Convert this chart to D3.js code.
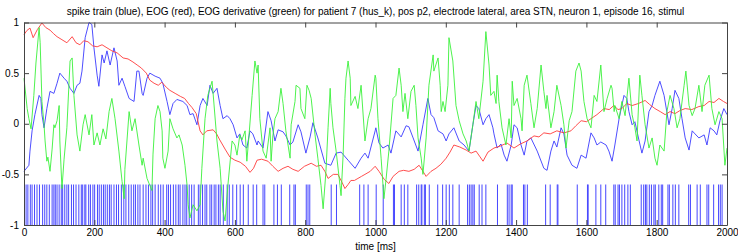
<!DOCTYPE html>
<html>
<head>
<meta charset="utf-8">
<script src="https://cdn.jsdelivr.net/npm/d3@7"></script>
<style>
	body { margin:0; background:#fff; }
	svg text { font-family:"Liberation Sans", Arial, sans-serif; fill:#000; }
	.axis path, .axis line { stroke:#444; }
	.axis text { font-size:10px; }
</style>
</head>
<body>
<svg id="chart"></svg>
<script>
// spike times [ms]
var spikeTimes = [6,11,18,23,30,37,44,53,59,65,72,80,85,89,94,100,106,110,116,122,127,135,141,148,156,163,167,173,176,184,189,196,201,209,214,220,226,231,237,243,248,256,263,269,277,284,290,298,305,312,317,324,
	330,339,347,354,361,366,373,382,389,396,406,411,417,425,432,439,444,452,458,463,470,477,484,496,501,508,515,520,529,534,541,546,553,558,567,578,584,594,605,615,624,638,652,662,
	680,685,711,721,732,756,768,772,803,808,813,874,889,955,967,979,1002,
	1022,1051,1054,1073,1082,1092,1117,1123,1130,1132,1139,1142,1153,1177,1191,1201,1210,1220,1238,1262,1267,1272,1277,1281,1295,1303,1314,
	1347,1375,1380,1386,1389,1421,1425,1432,1484,1497,1517,1519,1574,1603,1605,1627,1641,1655,
	1678,1682,1690,1694,1701,1709,1718,1725,1756,1763,1768,1772,1779,1785,1792,1796,1806,1813,1817,1832,1836,1846,1853,1863,1891,1896,1915,1924,1943,1948,1962,1976,1981,1986];

// smoothed spike train (blue) [ms, value]
var spikeRate = [[0,-0.47],[14,-0.41],[17,-0.27],[23,-0.07],[31,0.09],[43,0.28],[48,0.25],[51,0.09],[57,-0.04],[65,0.15],[74,0.32],[85,0.30],[94,0.40],[102,0.50],[114,0.45],[122,0.42],[131,0.35],[142,0.30],[151,0.38],[159,0.40],[165,0.52],[174,0.85],[185,1.0],[193,0.98],[199,0.75],[208,0.48],[213,0.37],[222,0.68],[228,0.60],[236,0.72],[245,0.58],[256,0.75],[265,0.62],[270,0.38],[279,0.45],[287,0.37],[299,0.25],[313,0.22],[321,0.52],[327,0.52],[336,0.30],
	[339,0.28],[350,0.45],[358,0.50],[373,0.47],[387,0.45],[395,0.40],[407,0.22],[415,0.09],[424,0.20],[435,0.24],[452,0.22],[464,0.18],[472,0.09],[481,0.10],[492,-0.01],[501,0.18],[509,0.25],[521,0.18],[529,0.38],[538,0.30],[549,0.35],[558,0.18],[566,0.05],[578,0.08],[586,0.05],[595,-0.01],[606,-0.14],[614,-0.10],[623,-0.21],[634,-0.24],[643,-0.07],[651,-0.10],[663,-0.21],
	[666,-0.17],[680,-0.24],[694,0.12],[703,0.03],[714,-0.17],[723,-0.06],[737,-0.08],[745,-0.12],[757,-0.21],[765,-0.18],[780,-0.01],[788,-0.08],[802,-0.29],[814,-0.13],[822,0.01],[836,-0.14],[856,-0.39],[873,-0.41],[888,-0.29],[902,-0.28],[922,-0.36],[942,-0.44],[959,-0.34],[970,-0.29],[979,-0.34],[999,-0.07],
	[1001,-0.04],[1010,-0.19],[1021,-0.24],[1036,-0.21],[1044,-0.29],[1058,-0.07],[1073,-0.13],[1087,-0.02],[1095,-0.03],[1107,-0.14],[1121,-0.27],[1135,-0.01],[1149,0.25],[1158,0.09],[1166,0.06],[1178,-0.07],[1192,-0.10],[1201,-0.17],[1209,-0.10],[1223,-0.04],[1238,-0.17],[1252,-0.21],[1266,-0.27],[1277,-0.01],[1286,0.18],[1294,0.15],[1306,-0.01],[1314,0.05],[1323,0.09],[1334,-0.04],
	[1337,-0.10],[1346,-0.24],[1357,-0.20],[1366,-0.31],[1374,-0.37],[1386,-0.21],[1394,-0.01],[1403,-0.04],[1414,-0.21],[1423,-0.31],[1431,-0.17],[1442,-0.14],[1460,-0.27],[1479,-0.44],[1488,-0.46],[1499,-0.27],[1508,-0.17],[1516,-0.23],[1528,-0.04],[1536,-0.10],[1545,-0.31],[1559,-0.41],[1573,-0.44],[1585,-0.31],[1599,-0.34],[1613,-0.09],[1622,-0.14],[1630,-0.21],[1641,-0.18],[1656,-0.21],[1664,-0.27],[1673,-0.37],
	[1681,-0.21],[1693,0.05],[1707,0.28],[1715,0.25],[1721,0.12],[1730,-0.01],[1738,0.02],[1750,-0.17],[1758,-0.29],[1767,-0.17],[1778,0.12],[1787,0.18],[1795,0.28],[1809,0.42],[1821,0.28],[1835,-0.01],[1844,0.15],[1852,0.33],[1863,0.25],[1872,0.05],[1881,-0.14],[1892,-0.26],[1901,-0.07],[1909,-0.10],[1920,-0.14],[1935,-0.11],[1943,-0.21],[1952,-0.04],[1963,-0.07],[1971,-0.11],[1980,0.03],[1991,0.15],[2000,0.09]];

// EOG (red)
var eog = [[0,0.88],[8,0.92],[17,0.945],[26,0.85],[38,0.93],[51,0.995],[62,0.95],[74,0.925],[84,0.89],[94,0.86],[108,0.83],[122,0.80],[137,0.86],[148,0.80],[159,0.78],[170,0.82],[182,0.81],[195,0.77],[208,0.76],[222,0.78],[236,0.75],[250,0.72],[265,0.70],[282,0.65],[296,0.64],[310,0.61],[322,0.58],[334,0.55],[348,0.50],[358,0.43],[370,0.40],[382,0.38],[392,0.41],[405,0.36],[415,0.33],[430,0.30],[445,0.27],[457,0.25],[468,0.20],[478,0.16],[490,0.10],[501,-0.07],[509,-0.11],[520,-0.07],[538,-0.06],[548,-0.10],[557,-0.16],[572,-0.25],[586,-0.33],[600,-0.36],[615,-0.38],[630,-0.42],[643,-0.48],[653,-0.44],[663,-0.36],
	[676,-0.35],[694,-0.37],[708,-0.42],[723,-0.47],[737,-0.44],[751,-0.42],[765,-0.45],[780,-0.47],[798,-0.42],[817,-0.39],[832,-0.42],[845,-0.41],[856,-0.47],[865,-0.54],[880,-0.50],[893,-0.50],[905,-0.58],[913,-0.64],[922,-0.60],[930,-0.56],[940,-0.56],[950,-0.54],[960,-0.52],[970,-0.50],[985,-0.47],[999,-0.42],
	[1010,-0.47],[1025,-0.55],[1038,-0.59],[1050,-0.52],[1067,-0.47],[1080,-0.46],[1095,-0.47],[1110,-0.45],[1124,-0.41],[1135,-0.47],[1144,-0.52],[1158,-0.47],[1172,-0.44],[1186,-0.40],[1201,-0.34],[1212,-0.28],[1223,-0.21],[1240,-0.23],[1258,-0.26],[1272,-0.29],[1286,-0.27],[1296,-0.32],[1306,-0.37],[1320,-0.28],[1337,-0.24],
	[1355,-0.22],[1374,-0.19],[1394,-0.24],[1412,-0.20],[1431,-0.17],[1451,-0.12],[1465,-0.13],[1479,-0.09],[1497,-0.10],[1516,-0.07],[1536,-0.09],[1556,-0.07],[1570,-0.02],[1585,0.03],[1600,0.02],[1613,0.05],[1630,0.09],[1650,0.15],[1665,0.14],[1678,0.18],
	[1690,0.14],[1701,0.15],[1715,0.20],[1730,0.18],[1748,0.20],[1767,0.23],[1780,0.19],[1795,0.15],[1810,0.12],[1824,0.09],[1838,0.12],[1852,0.10],[1866,0.13],[1881,0.15],[1900,0.14],[1920,0.17],[1935,0.18],[1949,0.22],[1963,0.21],[1977,0.25],[1990,0.22],[2000,0.20]];

// EOG derivative (green)
var eogDeriv = [[0,0.45],[9,0.15],[14,0.05],[20,-0.05],[28,0.28],[34,0.60],[43,0.95],[46,0.80],[51,0.22],[57,-0.01],[60,-0.17],[65,-0.37],[68,-0.33],[74,-0.47],[80,-0.25],[85,-0.01],[88,-0.04],[94,0.03],[100,0.18],[102,-0.17],[108,-0.64],[114,-0.35],[122,-0.04],[131,0.62],[137,0.65],[142,0.28],[151,-0.11],[159,-0.27],[168,-0.01],[174,0.09],[185,-0.11],[193,0.09],[199,-0.21],[208,-0.09],[216,-0.21],[225,-0.05],[233,-0.15],[242,0.12],[250,0.25],[259,0.05],[270,-0.27],[279,-0.57],[285,-0.74],[287,-0.45],[299,0.12],[307,-0.07],[316,0.05],[327,-0.21],[336,-0.41],
	[339,-0.34],[350,-0.54],[364,-0.66],[367,-0.30],[373,0.05],[381,0.18],[387,0.12],[393,-0.07],[395,-0.34],[401,-0.44],[410,-0.27],[415,0.05],[424,-0.05],[435,-0.14],[441,-0.11],[450,-0.21],[458,-0.41],[464,-0.61],[467,-0.80],[472,-0.93],[481,-0.80],[492,-0.86],[501,-0.80],[506,-0.44],[515,0.05],[523,0.28],[535,0.42],[538,0.30],[549,-0.17],[558,-0.44],[566,-0.86],[572,-0.96],[580,-0.61],[592,-0.17],[600,-0.21],[606,-0.31],[614,-0.11],[620,-0.16],[629,-0.07],[634,-0.37],[640,-0.12],[649,0.28],[657,0.62],[663,0.50],
	[666,0.58],[671,0.05],[680,-0.27],[689,-0.34],[700,-0.04],[703,-0.37],[708,-0.12],[714,0.05],[723,0.12],[731,0.35],[737,0.20],[745,-0.07],[757,-0.34],[760,-0.01],[771,0.22],[774,0.38],[785,0.35],[788,0.15],[799,0.05],[805,0.38],[811,0.33],[817,0.25],[828,-0.11],[836,-0.34],[845,-0.61],[851,-0.84],[859,-0.47],[865,-0.04],[871,0.35],[873,0.20],[879,-0.04],[888,-0.27],[899,-0.61],[902,-0.71],[908,-0.30],[913,0.25],[916,0.45],[922,0.62],[928,0.45],[930,0.18],[942,0.27],[950,0.15],[959,0.38],[970,-0.17],[979,0.05],[987,0.15],[999,0.48],
	[1001,0.45],[1007,0.05],[1016,-0.34],[1024,-0.74],[1030,-0.55],[1038,-0.27],[1050,0.25],[1058,0.28],[1067,0.55],[1073,0.38],[1078,0.12],[1084,0.30],[1092,0.05],[1101,0.32],[1110,0.38],[1115,0.18],[1121,-0.14],[1130,-0.34],[1135,-0.50],[1144,-0.14],[1152,0.38],[1164,0.68],[1166,0.52],[1178,0.65],[1184,0.38],[1187,0.12],[1192,0.22],[1198,0.12],[1206,0.38],[1209,0.85],[1220,0.62],[1229,0.18],[1238,0.03],[1249,-0.10],[1258,-0.17],[1266,-0.27],[1277,-0.01],[1286,0.22],[1294,0.05],[1306,0.42],[1314,0.91],[1323,0.58],[1328,0.28],
	[1337,0.32],[1343,0.20],[1346,0.48],[1351,0.22],[1360,-0.04],[1371,-0.21],[1380,0.05],[1386,-0.14],[1389,0.42],[1394,0.18],[1403,0.25],[1414,0.05],[1417,-0.07],[1423,0.38],[1431,0.48],[1442,0.20],[1451,-0.04],[1460,0.15],[1471,0.58],[1479,0.32],[1485,0.15],[1488,0.28],[1499,-0.04],[1508,0.12],[1516,0.38],[1528,0.18],[1536,-0.01],[1542,-0.24],[1551,0.03],[1559,0.12],[1570,0.52],[1579,0.60],[1585,0.52],[1593,0.22],[1602,0.05],[1613,-0.04],[1622,0.28],[1630,0.22],[1641,0.58],[1650,0.12],[1659,0.25],[1670,0.38],
	[1673,0.35],[1679,0.12],[1681,0.18],[1693,0.05],[1701,0.22],[1710,0.08],[1721,0.45],[1730,0.09],[1738,-0.04],[1744,-0.17],[1752,0.48],[1758,0.28],[1767,-0.01],[1778,-0.24],[1787,-0.14],[1795,-0.34],[1801,-0.41],[1809,-0.21],[1821,-0.27],[1829,0.12],[1838,0.28],[1849,0.15],[1858,-0.04],[1866,0.05],[1878,0.38],[1883,0.52],[1892,0.18],[1901,0.08],[1909,0.15],[1920,0.38],[1929,0.12],[1937,0.38],[1949,0.48],[1957,0.15],[1966,-0.01],[1977,0.12],[1986,0.05],[1994,-0.41],[2000,-0.24]];

var xTicks = [0,200,400,600,800,1000,1200,1400,1600,1800,2000];
var yTicks = [-1,-0.5,0,0.5,1];
var titleText = "spike train (blue), EOG (red), EOG derivative (green) for patient 7 (hus_k), pos p2, electrode lateral, area STN, neuron 1, episode 16, stimul";
var xLabel = "time [ms]";

(function(){
	var width = 738, height = 252,
		left = 24, right = 727, top = 22.5, bottom = 225;

	var svg = d3.select("#chart").attr("width", width).attr("height", height);

	var x = d3.scaleLinear().domain([0, 2000]).range([left, right]);
	var y = d3.scaleLinear().domain([-1, 1]).range([bottom, top]);

	// spike raster, -1 .. -0.6
	svg.append("g").selectAll("line")
		.data(spikeTimes)
		.enter().append("line")
		.attr("x1", function(d){ return x(d); })
		.attr("x2", function(d){ return x(d); })
		.attr("y1", y(-1))
		.attr("y2", y(-0.6))
		.style("stroke", "#4646ff")
		.style("stroke-width", 1);

	var line = d3.line()
		.x(function(d){ return x(d[0]); })
		.y(function(d){ return y(d[1]); });

	var series = [
		{data: spikeRate, color: "#3a3aff"},
		{data: eog, color: "#ff3a3a"},
		{data: eogDeriv, color: "#3af03a"}
	];
	series.forEach(function(s){
		svg.append("path")
			.datum(s.data)
			.attr("d", line)
			.style("fill", "none")
			.style("stroke", s.color)
			.style("stroke-width", 0.9);
	});

	// axes, ticks pointing inwards like matlab
	var fmt = function(d){ return String(d); };
	svg.append("g").attr("class", "axis")
		.attr("transform", "translate(0," + bottom + ")")
		.call(d3.axisBottom(x).tickValues(xTicks).tickFormat(fmt).tickSizeInner(-5).tickSizeOuter(0).tickPadding(4));
	svg.append("g").attr("class", "axis")
		.attr("transform", "translate(0," + top + ")")
		.call(d3.axisTop(x).tickValues(xTicks).tickFormat("").tickSizeInner(-5).tickSizeOuter(0));
	svg.append("g").attr("class", "axis")
		.attr("transform", "translate(" + left + ",0)")
		.call(d3.axisLeft(y).tickValues(yTicks).tickFormat(fmt).tickSizeInner(-5).tickSizeOuter(0).tickPadding(5));
	svg.append("g").attr("class", "axis")
		.attr("transform", "translate(" + right + ",0)")
		.call(d3.axisRight(y).tickValues(yTicks).tickFormat("").tickSizeInner(-5).tickSizeOuter(0));

	svg.selectAll(".axis .domain").style("stroke", "#444");

	svg.append("text")
		.attr("x", (left + right) / 2)
		.attr("y", 15)
		.attr("text-anchor", "middle")
		.style("font-size", "10px")
		.text(titleText);

	svg.append("text")
		.attr("x", (left + right) / 2)
		.attr("y", 250)
		.attr("text-anchor", "middle")
		.style("font-size", "10px")
		.text(xLabel);
})();
</script>
</body>
</html>
